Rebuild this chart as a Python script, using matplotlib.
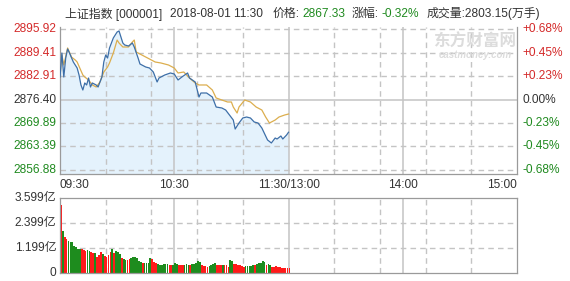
import matplotlib
matplotlib.use("Agg")
import matplotlib.pyplot as plt

plt.rcParams['font.family'] = ['Liberation Sans', 'Noto Sans CJK SC', 'DejaVu Sans']

# price ticks (left) and change ticks (right)
price_ticks = [2856.88, 2863.39, 2869.89, 2876.40, 2882.91, 2889.41, 2895.92]
pct_labels = ['-0.68%', '-0.45%', '-0.23%', '0.00%', '+0.23%', '+0.45%', '+0.68%']
prev_close = 2876.40

# minutes since 09:30 (trading minutes, 0..240)
time_ticks = [0, 60, 120, 180, 240]
time_labels = ['09:30', '10:30', '11:30/13:00', '14:00', '15:00']

# price line
price_min = [0, 1, 2, 3, 4, 5, 7, 9, 10, 11, 12, 13, 14, 15, 16, 17, 19, 20, 22, 23,
             24, 25, 26, 28, 30, 31, 32, 33, 34, 36, 38, 39, 41, 42, 45, 47, 49, 51, 52, 55,
             58, 60, 62, 64, 67, 68, 71, 73, 74, 77, 80, 82, 85, 87, 89, 91, 92, 94, 96, 98,
             100, 102, 104, 106, 107, 109, 111, 113, 114, 116, 117, 119, 120]
price_val = [2882.63, 2889.27, 2882.63, 2887.89, 2890.38, 2889.27, 2886.78, 2885.12, 2883.18, 2880.42,
             2879.03, 2880.97, 2880.42, 2882.35, 2879.86, 2880.97, 2880.42, 2879.86, 2882.63, 2886.78,
             2888.72, 2887.89, 2890.66, 2893.43, 2895.09, 2895.37, 2893.70, 2892.04, 2891.49, 2891.21,
             2892.04, 2890.94, 2887.89, 2886.23, 2885.40, 2885.12, 2884.01, 2881.25, 2882.35, 2883.18,
             2883.74, 2883.46, 2881.80, 2882.63, 2883.74, 2882.35, 2881.25, 2877.09, 2878.20, 2878.20,
             2877.09, 2874.32, 2874.05, 2873.49, 2872.11, 2870.72, 2868.23, 2869.89, 2871.28, 2871.55,
             2871.28, 2870.17, 2869.89, 2868.51, 2867.40, 2865.19, 2864.36, 2865.74, 2865.46, 2866.29,
             2865.46, 2866.57, 2867.33]

# average price line
avg_min = [0, 1, 2, 4, 6, 8, 9, 12, 13, 15, 17, 19, 21, 23, 25, 26, 28, 30, 31, 33,
           36, 38, 39, 40, 43, 46, 50, 53, 57, 60, 62, 65, 68, 71, 73, 77, 80, 82, 85, 88,
           90, 91, 93, 94, 97, 100, 103, 106, 108, 110, 113, 115, 118, 120]
avg_val = [2882.63, 2888.72, 2885.95, 2890.66, 2888.17, 2887.34, 2886.78, 2883.18, 2882.63, 2881.80,
           2880.42, 2879.86, 2881.25, 2884.01, 2885.40, 2886.51, 2889.27, 2892.87, 2892.04, 2890.94,
           2890.94, 2892.32, 2892.87, 2889.55, 2888.72, 2887.89, 2886.78, 2886.51, 2885.95, 2885.12,
           2883.74, 2884.01, 2882.35, 2880.97, 2880.42, 2880.42, 2879.03, 2876.82, 2876.26, 2875.71,
           2875.71, 2874.32, 2872.66, 2874.32, 2876.26, 2875.71, 2874.32, 2873.49, 2871.55, 2869.89,
           2870.72, 2871.55, 2872.11, 2872.38]

# volume per minute (亿), 09:30 .. 11:30
volume = [3.26, 2.03, 1.74, 1.62, 1.54, 1.50, 1.50, 1.31, 1.23, 1.15,
          1.15, 1.15, 1.10, 1.06, 1.08, 1.06, 1.02, 0.94, 0.94, 0.78,
          0.86, 1.02, 0.90, 0.80, 0.78, 0.86, 1.02, 1.15, 0.94, 1.06,
          1.02, 0.90, 0.70, 0.67, 0.62, 0.62, 0.67, 0.70, 0.78, 0.78,
          0.74, 0.58, 0.55, 0.50, 0.48, 0.48, 0.46, 0.70, 0.67, 0.54,
          0.46, 0.42, 0.38, 0.38, 0.42, 0.42, 0.42, 0.38, 0.38, 0.40,
          0.48, 0.43, 0.40, 0.40, 0.40, 0.40, 0.43, 0.40, 0.37, 0.43,
          0.45, 0.48, 0.56, 0.51, 0.40, 0.32, 0.32, 0.29, 0.32, 0.40,
          0.45, 0.48, 0.37, 0.37, 0.37, 0.40, 0.40, 0.37, 0.27, 0.64,
          0.59, 0.45, 0.43, 0.40, 0.40, 0.32, 0.29, 0.32, 0.32, 0.32,
          0.32, 0.37, 0.40, 0.45, 0.48, 0.48, 0.56, 0.53, 0.40, 0.43,
          0.40, 0.29, 0.29, 0.32, 0.27, 0.27, 0.24, 0.24, 0.24, 0.23,
          0.22]
# R = up minute, G = down minute
vol_dir = ("RGRRGGGGGG" "GRRRGGRRGR" "RRGRRRRGRG" "GGRGGRRGGG" "GGGRGGGGRR" "RGGGGGGRRG"
           "GGRRRGGGRG" "GGGGRRRRGG" "GGRRRGRRRG" "GRRRRRRGGG" "GGRGGGGGRG" "GRRRRRRRRR" "R")
vol_ticks = [0, 1.199, 2.399, 3.599]
vol_labels = ['0', '1.199亿', '2.399亿', '3.599亿']

RED = '#d42a2a'
GREEN = '#1f8a1f'
DARK = '#333333'
GRID = '#c4c4c4'
BORDER = '#9a9a9a'
DASH = (0, (4, 3))

fig = plt.figure(figsize=(5.7, 2.81), dpi=100)
ax = fig.add_axes([60 / 570, 1 - 174 / 281, 457 / 570, 147 / 281])
axv = fig.add_axes([60 / 570, 1 - 273 / 281, 457 / 570, 75 / 281])

px = (2895.92 - 2856.88) / 141
ax.set_ylim(2856.88 - 4 * px, 2895.92 + 2 * px)
for a in (ax, axv):
    a.set_xlim(0, 240)
    a.set_xticks([])
    a.set_yticks([])
    for s in a.spines.values():
        s.set_color(BORDER)
        s.set_linewidth(0.9)
    # vertical grid: solid at hours, dashed every 24 minutes
    for m in [24, 48, 72, 96, 144, 168, 192, 216]:
        a.axvline(m, color=GRID, lw=1.0, ls=DASH, zorder=1.5)
    for m in [60, 120, 180]:
        a.axvline(m, color=GRID, lw=1.1, zorder=1.5)
ax.spines['top'].set_visible(False)

for v in price_ticks:
    if v == prev_close:
        ax.axhline(v, color=GRID, lw=1.1, zorder=1.5)
    else:
        ax.axhline(v, color=GRID, lw=1.0, ls=DASH, zorder=1.5)

ax.fill_between(price_min, price_val, ax.get_ylim()[0], color='#e4f2fc', lw=0, zorder=1)
ax.plot(price_min, price_val, color='#3d6fa8', lw=0.9, zorder=3)
ax.plot(avg_min, avg_val, color='#dcae4e', lw=0.9, zorder=2)

for v, pl in zip(price_ticks, pct_labels):
    c = RED if v > prev_close else (GREEN if v < prev_close else DARK)
    ax.text(-3.5 / 1.904, v, f'{v:.2f}', ha='right', va='center', fontsize=8.6, color=c)
    ax.text(240 + 5.5 / 1.904, v, pl, ha='left', va='center', fontsize=8.6, color=c)

for m, lab in zip(time_ticks, time_labels):
    ha = 'left' if m == 0 else ('right' if m == 240 else 'center')
    fig.text((60 + m * 457 / 240) / 570, 1 - 185 / 281, lab, ha=ha, va='center',
             fontsize=8.6, color=DARK)

# volume
axv.set_ylim(0, 3.599)
for v in vol_ticks[1:3]:
    axv.axhline(v, color=GRID, lw=1.0, ls=DASH, zorder=1.5)
bar_colors = ['#ff1a1a' if d == 'R' else '#1e8c1e' for d in vol_dir]
axv.bar(range(len(volume)), volume, width=0.9, align='edge', color=bar_colors,
        lw=0, zorder=2)
for v, lab in zip(vol_ticks, vol_labels):
    axv.text(-3.5 / 1.904, v, lab, ha='right', va='center', fontsize=8.6, color=DARK)

# header line
title_parts = [(65, '上证指数 [000001]', DARK), (170, '2018-08-01 11:30', DARK),
               (273, '价格:', DARK), (302, '2867.33', GREEN), (352, '涨幅:', DARK),
               (382, '-0.32%', GREEN), (427, '成交量:2803.15(万手)', DARK)]
for x, s, c in title_parts:
    fig.text(x / 570, 1 - 14 / 281, s, ha='left', va='center', fontsize=8.6, color=c)

# watermark
fig.text(475 / 570, 1 - 42 / 281, '东方财富网', ha='center', va='center', fontsize=12,
         fontweight='bold', color='#dcdcdc', family=['Noto Sans CJK SC'])
fig.text(475 / 570, 1 - 55 / 281, 'eastmoney.com', ha='center', va='center', fontsize=7,
         fontweight='bold', style='italic', color='#dcdcdc')

fig.savefig('out.png', dpi=100)
